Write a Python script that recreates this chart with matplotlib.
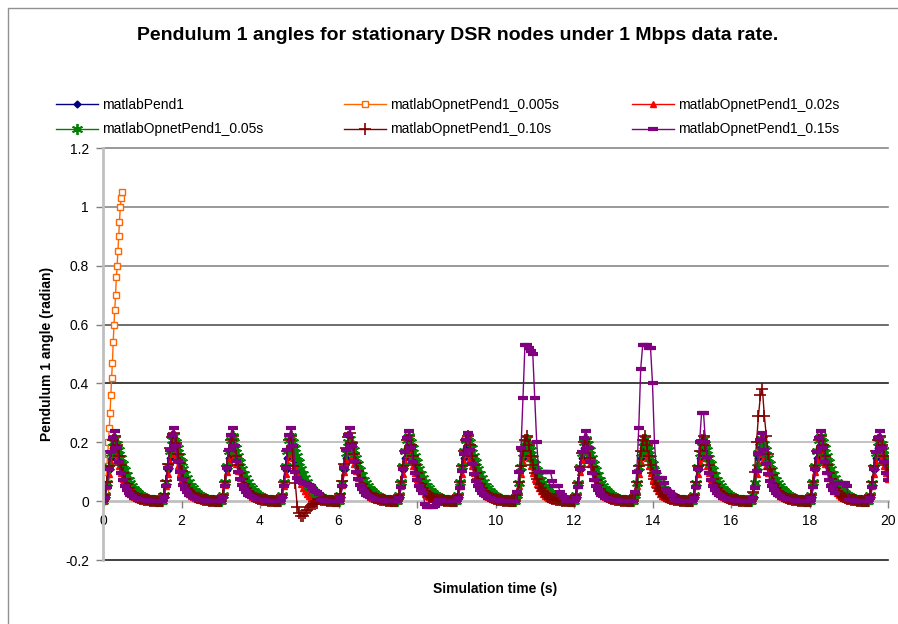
import numpy as np
import matplotlib
matplotlib.use("Agg")
import matplotlib.pyplot as plt
from matplotlib import patches
from matplotlib.ticker import FuncFormatter

plt.rcParams['font.family'] = ['Liberation Sans', 'DejaVu Sans']

step = 0.05          # sampling of the traces (s)
n_points = 401       # 0 .. 20 s
swing_len = 30       # samples per 1.5 s swing

# one swing, relative to its own peak, 0.05 s apart
pulse_shape = [0.00, 0.10, 0.30, 0.55, 0.78, 0.95, 1.00, 0.92, 0.82, 0.70,
               0.60, 0.50, 0.42, 0.35, 0.29, 0.24, 0.20, 0.16, 0.13, 0.10,
               0.08, 0.06, 0.045, 0.035, 0.025, 0.018, 0.012, 0.008, 0.004, 0.002]
# the delayed cases settle faster after the peak
pulse_shape_fast = [0.00, 0.10, 0.30, 0.55, 0.78, 0.95, 1.00, 0.86, 0.70, 0.56,
                    0.44, 0.34, 0.26, 0.20, 0.15, 0.11, 0.085, 0.065, 0.05, 0.04,
                    0.03, 0.022, 0.016, 0.011, 0.008, 0.005, 0.003, 0.002, 0.0, 0.0]
pulse_shape_p = [0.00, 0.05, 0.20, 0.45, 0.70, 0.90, 1.00, 0.75, 0.55, 0.40,
                 0.30, 0.22, 0.16, 0.12, 0.09, 0.07, 0.05, 0.04, 0.03, 0.02,
                 0.02, 0.01, 0.01, 0.005, 0.005, 0.0, 0.0, 0.0, 0.0, 0.0]

# peak angle of each of the 14 swings
peaks_pend1 = [0.19, 0.19, 0.19, 0.19, 0.19, 0.19, 0.19, 0.19, 0.19, 0.19, 0.19, 0.19, 0.19, 0.19]
peaks_002 = [0.17, 0.17, 0.18, 0.17, 0.18, 0.17, 0.17, 0.17, 0.18, 0.17, 0.17, 0.17, 0.18, 0.17]
peaks_005 = [0.21, 0.22, 0.22, 0.22, 0.21, 0.22, 0.22, 0.21, 0.21, 0.21, 0.21, 0.21, 0.22, 0.21]
peaks_010 = [0.22, 0.23, 0.22, 0.22, 0.23, 0.22, 0.22, 0.22, 0.21, 0.22, 0.22, 0.22, 0.22, 0.22]
peaks_015 = [0.24, 0.25, 0.25, 0.25, 0.25, 0.24, 0.23, 0.24, 0.24, 0.24, 0.24, 0.23, 0.24, 0.24]

# 0.005 s case: diverges right away, trace stops at 0.48 s
t_005 = [0.00, 0.02, 0.04, 0.06, 0.08, 0.10, 0.12, 0.14, 0.16, 0.18, 0.20, 0.22, 0.24,
         0.26, 0.28, 0.30, 0.32, 0.34, 0.36, 0.38, 0.40, 0.42, 0.44, 0.46, 0.48]
y_005 = [0.00, 0.01, 0.03, 0.05, 0.08, 0.12, 0.16, 0.20, 0.25, 0.30, 0.36, 0.42, 0.47,
         0.54, 0.60, 0.65, 0.70, 0.76, 0.80, 0.85, 0.90, 0.95, 1.00, 1.03, 1.05]

# deviations of the 0.10 s case
fix_010_t = [4.85, 4.90, 4.95, 5.00, 5.05, 5.10, 5.15, 5.20, 5.25, 5.30, 5.35, 5.40, 5.45,
             16.55, 16.60, 16.65, 16.70, 16.75, 16.80, 16.85, 16.90, 16.95, 17.00, 17.05]
fix_010_y = [0.12, 0.06, -0.02, -0.04, -0.05, -0.05, -0.04, -0.03, -0.02, -0.015, -0.01, -0.01, -0.005,
             0.03, 0.10, 0.20, 0.29, 0.36, 0.38, 0.29, 0.22, 0.16, 0.11, 0.09]

# deviations of the 0.15 s case
fix_015_t = [4.90, 4.95, 5.00, 5.05, 5.10, 5.15, 5.20, 5.25, 5.30, 5.35, 5.40, 5.45, 5.50,
             8.20, 8.25, 8.30, 8.35, 8.40, 8.45, 8.50,
             10.55, 10.60, 10.65, 10.70, 10.75, 10.80, 10.85, 10.90, 10.95, 11.00, 11.05,
             11.10, 11.15, 11.20, 11.25, 11.30, 11.35, 11.40, 11.45, 11.50, 11.55, 11.60,
             11.65, 11.70, 11.75,
             13.55, 13.60, 13.65, 13.70, 13.75, 13.80, 13.85, 13.90, 13.95, 14.00, 14.05,
             14.10, 14.15, 14.20, 14.25, 14.30, 14.35, 14.40, 14.45, 14.50,
             15.20, 15.25, 15.30, 15.35, 15.40,
             18.70, 18.75, 18.80, 18.85, 18.90, 18.95]
fix_015_y = [0.10, 0.08, 0.07, 0.065, 0.063, 0.06, 0.058, 0.055, 0.05, 0.04, 0.035, 0.03, 0.025,
             -0.01, -0.02, -0.02, -0.02, -0.02, -0.015, -0.01,
             0.03, 0.10, 0.18, 0.35, 0.53, 0.53, 0.52, 0.51, 0.50, 0.35, 0.20,
             0.10, 0.10, 0.10, 0.10, 0.10, 0.10, 0.10, 0.07, 0.05, 0.05, 0.05,
             0.03, 0.02, 0.01,
             0.03, 0.10, 0.25, 0.45, 0.53, 0.53, 0.53, 0.52, 0.52, 0.40, 0.20,
             0.10, 0.08, 0.08, 0.08, 0.06, 0.04, 0.03, 0.03, 0.02,
             0.20, 0.30, 0.30, 0.20, 0.15,
             0.06, 0.06, 0.06, 0.06, 0.06, 0.05]


def build(peaks, shape, fix_t=(), fix_y=()):
    y = [peaks[min(i // swing_len, len(peaks) - 1)] * shape[i % swing_len]
         for i in range(n_points)]
    for tt, v in zip(fix_t, fix_y):
        y[int(round(tt / step))] = v
    return y


t = np.arange(n_points) * step

fig = plt.figure(figsize=(8.98, 6.24), dpi=100)
W, H = 898.0, 624.0
ax = fig.add_axes([103 / W, 1 - 560 / H, 785 / W, 412 / H])

# outer chart border
fig.patches.append(patches.Rectangle((8 / W, -0.1), 1.2, 1.1 - 8 / H, transform=fig.transFigure,
                                     fill=False, edgecolor='#909090', linewidth=1.0))

h1, = ax.plot(t, build(peaks_pend1, pulse_shape), color='#000080', lw=1, marker='D', ms=3.5,
              label='matlabPend1')
h2, = ax.plot(t_005, y_005, color='#FF6600', lw=1, marker='s', ms=4, mfc='white', mew=1,
              label='matlabOpnetPend1_0.005s')
h3, = ax.plot(t, build(peaks_002, pulse_shape_fast), color='#FF0000', lw=1, marker='^', ms=4.5,
              label='matlabOpnetPend1_0.02s')
h4, = ax.plot(t, build(peaks_005, pulse_shape), color='#008000', lw=1, marker=(6, 2, 0), ms=8, mew=1.3,
              label='matlabOpnetPend1_0.05s')
h5, = ax.plot(t, build(peaks_010, pulse_shape_fast, fix_010_t, fix_010_y), color='#800000', lw=1,
              marker='+', ms=8, mew=1.2, label='matlabOpnetPend1_0.10s')
h6, = ax.plot(t, build(peaks_015, pulse_shape_p, fix_015_t, fix_015_y), color='#800080', lw=1,
              marker='_', ms=7, mew=3, label='matlabOpnetPend1_0.15s')

ax.set_xlim(0, 20)
ax.set_ylim(-0.2, 1.2)
ax.set_xticks(np.arange(0, 21, 2))
ax.set_yticks([-0.2, 0, 0.2, 0.4, 0.6, 0.8, 1.0, 1.2])
ax.yaxis.set_major_formatter(FuncFormatter(lambda v, p: '%g' % round(v, 2)))

grid_y = [-0.2, 0.2, 0.4, 0.6, 0.8, 1.0, 1.2]
grid_c = ['#202020', '#b8b8b8', '#202020', '#555555', '#888888', '#888888', '#888888']
for gy, gc in zip(grid_y, grid_c):
    ax.axhline(gy, color=gc, lw=1.2, zorder=0, clip_on=False)

for s in ['top', 'right']:
    ax.spines[s].set_visible(False)
ax.spines['bottom'].set_position(('data', 0))
ax.spines['bottom'].set_color('#c0c0c0')
ax.spines['bottom'].set_linewidth(2)
ax.spines['bottom'].set_zorder(0)
ax.spines['left'].set_color('#c0c0c0')
ax.spines['left'].set_linewidth(2)
ax.tick_params(axis='both', colors='#808080', labelcolor='black', labelsize=10, length=5, width=1)
ax.tick_params(axis='y', pad=5)
ax.tick_params(axis='x', pad=4)

ax.set_xlabel('Simulation time (s)', fontsize=10, fontweight='bold', labelpad=0)
ax.xaxis.set_label_coords(0.5, -0.053)
ax.set_ylabel('Pendulum 1 angle (radian)', fontsize=10, fontweight='bold')
ax.yaxis.set_label_coords(-0.062, 0.5)

fig.text(458 / W, 1 - 36 / H, 'Pendulum 1 angles for stationary DSR nodes under 1 Mbps data rate.',
         ha='center', va='center', fontsize=14, fontweight='bold')

handles = [h1, h2, h3, h4, h5, h6]
col_x = [56, 344, 632]
for c in range(3):
    fig.legend(handles=[handles[c], handles[c + 3]], loc='upper left',
               bbox_to_anchor=(col_x[c] / W, 1 - 98 / H), frameon=False, fontsize=10,
               handlelength=3.0, handletextpad=0.3, labelspacing=0.75, numpoints=1,
               borderpad=0, borderaxespad=0)

fig.savefig('out.png', dpi=100)
